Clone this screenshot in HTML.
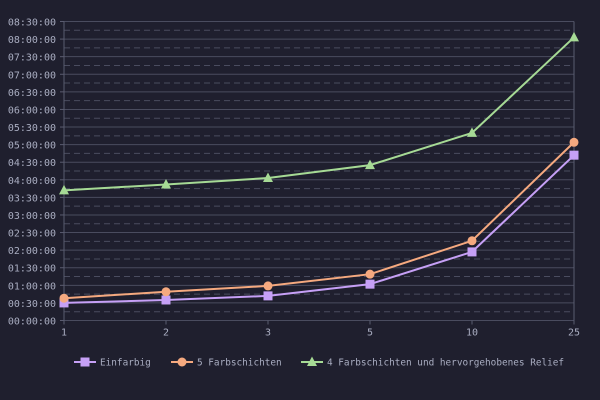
<!DOCTYPE html>
<html><head><meta charset="utf-8"><style>
html,body{margin:0;padding:0;background:#1f1f2e;}
svg{display:block;font-family:"DejaVu Sans Mono","Liberation Mono",monospace;}
</style></head><body>
<svg id="chart" width="600" height="400" viewBox="0 0 600 400" xmlns="http://www.w3.org/2000/svg">
<rect width="600" height="400" fill="#1f1f2e"/>
<g id="grid"></g><g id="axes"></g><g id="series"></g><g id="legend"></g>
</svg>
<script>
const categories = ["1","2","3","5","10","25"];
const seriesNames = ["Einfarbig","5 Farbschichten","4 Farbschichten und hervorgehobenes Relief"];
const einfarbig = [30,35,42,62,117,282];
const farbschichten5 = [38,49,59,79,136,304];
const relief = [222,232,243,265,320,483];
const yTickMinutes = [0,30,60,90,120,150,180,210,240,270,300,330,360,390,420,450,480,510];

const NS="http://www.w3.org/2000/svg";
const X0=64,X1=574,Y0=320.5,Y1=21.5,YMAX=510;
const xs=i=>X0+i*(X1-X0)/(categories.length-1);
const ys=v=>Y0-v*(Y0-Y1)/YMAX;
function mk(tag,attrs,parent){const e=document.createElementNS(NS,tag);for(const k in attrs)e.setAttribute(k,attrs[k]);parent.appendChild(e);return e;}
const grid=document.getElementById('grid'),axes=document.getElementById('axes'),ser=document.getElementById('series'),leg=document.getElementById('legend');
const fmt=m=>String(Math.floor(m/60)).padStart(2,'0')+':'+String(m%60).padStart(2,'0')+':00';

yTickMinutes.forEach(m=>{
  const y=ys(m);
  const l=mk('line',{x1:X0,x2:X1,y1:y,y2:y,stroke:'#4a4c5f','stroke-width':1},grid);
  
  
  mk('line',{x1:X0-4,x2:X0,y1:y,y2:y,stroke:'#5a5c70'},axes);
  const t=mk('text',{x:X0-8,y:y+4,'text-anchor':'end','font-size':10,fill:'#a9adc1'},axes);
  t.textContent=fmt(m);
  
  
  if(m<YMAX){
    const yd=ys(m+15);
    const d=mk('line',{x1:X0,x2:X1,y1:yd,y2:yd,stroke:'#4a4c5f','stroke-dasharray':'6,4'},grid);
    
    
  }
});
mk('line',{x1:X0,x2:X0,y1:Y1,y2:Y0,stroke:'#5a5c70'},axes);
mk('line',{x1:X1,x2:X1,y1:Y1,y2:Y0,stroke:'#5a5c70'},axes);
categories.forEach((c,i)=>{
  const x=xs(i);
  mk('line',{x1:x,x2:x,y1:Y0,y2:Y0+4,stroke:'#5a5c70'},axes);
  const t=mk('text',{x:x,y:Y0+15,'text-anchor':'middle','font-size':10,fill:'#a9adc1'},axes);
  t.textContent=c;
  
  
});

const colors=['#c6a0f6','#f5a97f','#a6da95'];
const shapes=['square','circle','triangle'];
function marker(shape,x,y,col,parent){
  let e;
  if(shape==='square')e=mk('rect',{x:x-4.5,y:y-4.5,width:9,height:9,fill:col},parent);
  else if(shape==='circle')e=mk('circle',{cx:x,cy:y,r:4.5,fill:col},parent);
  else e=mk('polygon',{points:`${x},${y-5.5} ${x+5},${y+4} ${x-5},${y+4}`,fill:col},parent);
  return e;
}
[einfarbig,farbschichten5,relief].forEach((vals,s)=>{
  const g=mk('g',{},ser);
  
  
  mk('polyline',{points:vals.map((v,i)=>xs(i)+','+ys(v)).join(' '),fill:'none',stroke:colors[s],'stroke-width':2},g);
  vals.forEach((v,i)=>{
    const m=marker(shapes[s],xs(i),ys(v),colors[s],g);
    
    
  });
});

const legX=[74,171,301];
seriesNames.forEach((n,s)=>{
  const g=mk('g',{},leg);
  
  
  const x=legX[s],y=362;
  mk('line',{x1:x,x2:x+22,y1:y,y2:y,stroke:colors[s],'stroke-width':2},g);
  marker(shapes[s],x+11,y,colors[s],g);
  const t=mk('text',{x:x+26,y:y+3.5,'font-size':9.4,fill:'#a9adc1'},g);
  t.textContent=n;
});
</script>
</body></html>
